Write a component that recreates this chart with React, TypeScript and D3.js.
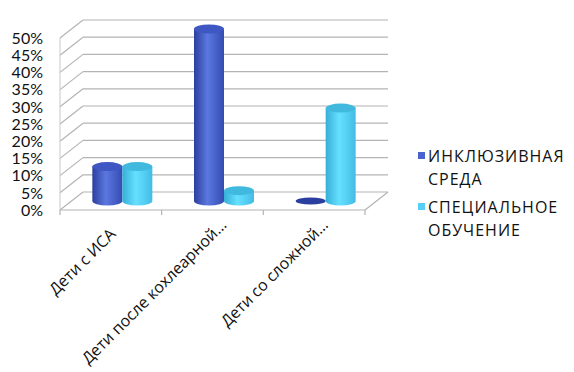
import React from "react";
import * as d3 from "d3";

const categories = ["Дети с ИСА", "Дети после кохлеарной…", "Дети со сложной…"];
const seriesNames = ["ИНКЛЮЗИВНАЯ СРЕДА", "СПЕЦИАЛЬНОЕ ОБУЧЕНИЕ"];
const legendLines = [["ИНКЛЮЗИВНАЯ", "СРЕДА"], ["СПЕЦИАЛЬНОЕ", "ОБУЧЕНИЕ"]];
const inclusive = [0.1, 0.5, 0.0];
const special = [0.1, 0.03, 0.27];
const yTicks = [0, 0.05, 0.1, 0.15, 0.2, 0.25, 0.3, 0.35, 0.4, 0.45, 0.5];

const W = 574, H = 372;
const X0 = 60, X1 = 365, Y0 = 210, YTOP = 38;
const DX = 23, DY = -18;
const colors = [
  { left: "#2b3f9e", mid: "#5b78e0", right: "#344cb2", top: "#3e57c2", legend: "#4a63d0" },
  { left: "#36aed8", mid: "#66e0ff", right: "#43bce6", top: "#41b9df", legend: "#55cff5" },
];

export default function App() {
  const x = d3.scaleBand().domain(categories).range([X0, X1]).paddingInner(0).paddingOuter(0);
  const y = d3.scaleLinear().domain([0, 0.5]).range([Y0, YTOP]);
  const fmt = d3.format(".0%");
  const series = [inclusive, special];
  const barW = 30;
  const rx = barW / 2, ry = 4.5;
  const midDX = DX / 2, midDY = DY / 2;
  const tickXs = [X0, ...categories.map((c) => (x(c) as number) + x.bandwidth())];

  const cylinder = (cx: number, v: number, s: number, key: string) => {
    const yb = y(0) + midDY;
    const yt = y(v) + midDY;
    const c = colors[s];
    if (v <= 0.001) {
      return <ellipse key={key} cx={cx} cy={yb} rx={rx} ry={ry * 0.8} fill={colors[0].left} />;
    }
    const body = `M${cx - rx},${yt} L${cx - rx},${yb} A${rx},${ry} 0 0 0 ${cx + rx},${yb} L${cx + rx},${yt} Z`;
    return (
      <g key={key}>
        <path d={body} fill={`url(#grad${s})`} />
        <ellipse cx={cx} cy={yt} rx={rx} ry={ry} fill={c.top} />
      </g>
    );
  };

  return (
    <svg width={W} height={H} style={{ position: "absolute", left: 0, top: 0, background: "#fff" }}>
      <defs>
        {colors.map((c, i) => (
          <linearGradient key={i} id={`grad${i}`} x1="0" x2="1" y1="0" y2="0">
            <stop offset="0" stopColor={c.left} />
            <stop offset="0.45" stopColor={c.mid} />
            <stop offset="1" stopColor={c.right} />
          </linearGradient>
        ))}
      </defs>
      {yTicks.map((t) => (
        <g key={t} stroke="#b4b4b4" strokeWidth={1.2} fill="none">
          <line x1={X0 + DX} x2={X1 + DX} y1={y(t) + DY} y2={y(t) + DY} />
          <line x1={X0} x2={X0 + DX} y1={y(t)} y2={y(t) + DY} />
        </g>
      ))}
      <line x1={X0} x2={X0} y1={YTOP} y2={Y0} stroke="#c8c8c8" strokeWidth={1} />
      <line x1={X0} x2={X1} y1={Y0} y2={Y0} stroke="#b4b4b4" strokeWidth={1.2} />
      <line x1={X1} x2={X1 + DX} y1={Y0} y2={Y0 + DY} stroke="#b4b4b4" strokeWidth={1.2} />
      {tickXs.map((tx, i) => (
        <line key={i} x1={tx} x2={tx} y1={Y0} y2={Y0 + 5} stroke="#b4b4b4" strokeWidth={1.2} />
      ))}
      {categories.map((c, i) => {
        const cx = (x(c) as number) + x.bandwidth() / 2 + midDX;
        return (
          <g key={c}>
            {cylinder(cx - rx, series[0][i], 0, "a")}
            {cylinder(cx + rx, series[1][i], 1, "b")}
          </g>
        );
      })}
      {yTicks.map((t) => (
        <text key={t} x={43} y={y(t)} dy="0.36em" textAnchor="end" fontFamily="Lato" fontSize={16} fill="#111">
          {fmt(t)}
        </text>
      ))}
      {categories.map((c) => {
        const shift = c.endsWith("…") ? 0 : 13;
        const ax = (x(c) as number) + x.bandwidth() / 2 + 15 - shift * 0.707;
        const ay = 226 + shift * 0.707;
        return (
          <text key={c} x={ax} y={ay} textAnchor="end" transform={`rotate(-45 ${ax} ${ay})`} fontFamily="Open Sans" fontSize={16} fill="#111">
            {c}
          </text>
        );
      })}
      {seriesNames.map((n, i) => (
        <g key={n}>
          <rect x={418} y={152 + i * 51} width={7} height={7} fill={colors[i].legend} />
          {legendLines[i].map((ln, j) => (
            <text key={j} x={428} y={162 + i * 51 + j * 23} fontFamily="Open Sans" fontSize={16} letterSpacing={1} fill="#111">
              {ln}
            </text>
          ))}
        </g>
      ))}
    </svg>
  );
}
